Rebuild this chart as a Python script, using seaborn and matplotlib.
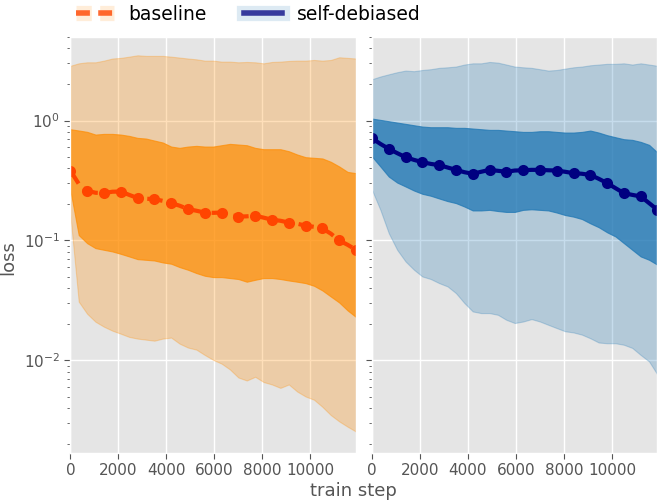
import numpy as np
import pandas as pd
import matplotlib
matplotlib.use("Agg")
import matplotlib.pyplot as plt
from matplotlib.lines import Line2D
import seaborn as sns

plt.style.use("ggplot")

# ---- data ----
steps = np.linspace(0, 11900, 35)  # logged training steps

baseline_median = [0.383, 0.297, 0.26, 0.25, 0.248, 0.255, 0.256, 0.240, 0.226, 0.223,
                   0.221, 0.214, 0.205, 0.195, 0.183, 0.177, 0.171, 0.170, 0.171, 0.164,
                   0.158, 0.159, 0.161, 0.155, 0.149, 0.146, 0.141, 0.138, 0.133, 0.130,
                   0.126, 0.114, 0.100, 0.092, 0.0836]
baseline_inner_hi = [0.847, 0.826, 0.805, 0.764, 0.774, 0.774, 0.764, 0.745, 0.717, 0.708,
                     0.681, 0.656, 0.607, 0.592, 0.607, 0.615, 0.607, 0.607, 0.623, 0.639,
                     0.631, 0.623, 0.592, 0.577, 0.577, 0.577, 0.555, 0.521, 0.495, 0.489,
                     0.483, 0.453, 0.414, 0.373, 0.364]
baseline_inner_lo = [0.264, 0.111, 0.095, 0.0863, 0.0836, 0.081, 0.0774, 0.0736, 0.0699, 0.069,
                     0.0681, 0.0656, 0.064, 0.060, 0.057, 0.0535, 0.0508, 0.0495, 0.0495, 0.0486,
                     0.0477, 0.0453, 0.047, 0.0486, 0.0486, 0.0477, 0.0464, 0.0453, 0.0441, 0.0419,
                     0.0383, 0.0341, 0.0304, 0.0261, 0.023]
baseline_outer_hi = [2.86, 3.0, 3.06, 3.06, 3.16, 3.29, 3.33, 3.41, 3.50, 3.46,
                     3.46, 3.46, 3.41, 3.35, 3.29, 3.24, 3.16, 3.16, 3.10, 3.10,
                     3.06, 3.08, 3.06, 3.0, 3.08, 3.10, 3.14, 3.16, 3.16, 3.2,
                     3.16, 3.2, 3.37, 3.33, 3.29]
baseline_outer_lo = [0.164, 0.0309, 0.0245, 0.021, 0.0191, 0.0177, 0.0167, 0.0157, 0.0152, 0.0149,
                     0.0146, 0.0152, 0.0155, 0.0138, 0.0128, 0.0123, 0.0111, 0.0101, 0.0094, 0.0084,
                     0.0072, 0.0068, 0.0073, 0.0066, 0.0063, 0.0059, 0.0063, 0.0055, 0.0050, 0.0047,
                     0.0041, 0.0035, 0.0031, 0.0028, 0.00255]

debiased_median = [0.712, 0.639, 0.581, 0.535, 0.495, 0.470, 0.450, 0.435, 0.425, 0.406,
                   0.388, 0.371, 0.360, 0.374, 0.388, 0.381, 0.374, 0.383, 0.385, 0.388,
                   0.388, 0.385, 0.383, 0.374, 0.364, 0.360, 0.352, 0.327, 0.301, 0.273,
                   0.248, 0.240, 0.233, 0.205, 0.180]
debiased_inner_hi = [1.039, 1.013, 0.987, 0.962, 0.938, 0.914, 0.891, 0.880, 0.880, 0.880,
                     0.869, 0.869, 0.858, 0.847, 0.836, 0.836, 0.825, 0.815, 0.804, 0.804,
                     0.815, 0.815, 0.804, 0.794, 0.794, 0.804, 0.825, 0.794, 0.755, 0.726,
                     0.699, 0.690, 0.664, 0.627, 0.541]
debiased_inner_lo = [0.501, 0.414, 0.341, 0.304, 0.282, 0.261, 0.245, 0.236, 0.224, 0.213,
                     0.205, 0.192, 0.178, 0.178, 0.180, 0.176, 0.173, 0.173, 0.180, 0.182,
                     0.180, 0.178, 0.171, 0.163, 0.158, 0.151, 0.139, 0.129, 0.117, 0.108,
                     0.095, 0.0836, 0.0736, 0.069, 0.0627]
debiased_outer_hi = [2.21, 2.33, 2.43, 2.53, 2.61, 2.58, 2.64, 2.68, 2.75, 2.78,
                     2.82, 2.93, 3.0, 3.0, 3.08, 3.04, 2.93, 2.82, 2.78, 2.75,
                     2.68, 2.61, 2.64, 2.71, 2.78, 2.82, 2.89, 2.93, 2.97, 2.97,
                     3.0, 2.93, 3.0, 2.93, 2.86]
debiased_outer_lo = [0.264, 0.180, 0.115, 0.0836, 0.0668, 0.0570, 0.0501, 0.0477, 0.0441, 0.0414,
                     0.0364, 0.0301, 0.0256, 0.0248, 0.0248, 0.0240, 0.0218, 0.0205, 0.0211, 0.0221,
                     0.0211, 0.0198, 0.0186, 0.0175, 0.0171, 0.0164, 0.0153, 0.0141, 0.0139, 0.0139,
                     0.0135, 0.0127, 0.0111, 0.0098, 0.0076]

labels = ["baseline", "self-debiased"]
xticks = [0, 2000, 4000, 6000, 8000, 10000]

# ---- figure ----
fig = plt.figure(figsize=(6.64, 5.03), dpi=100)
ax1 = fig.add_axes([0.1059, 0.100, 0.4303, 0.827])
ax2 = fig.add_axes([0.5602, 0.100, 0.4300, 0.827], sharey=ax1)

panels = [
    (ax1, baseline_median, baseline_inner_lo, baseline_inner_hi, baseline_outer_lo, baseline_outer_hi,
     "#FF8C00", 0.27, 0.70, "#FF4500", "--"),
    (ax2, debiased_median, debiased_inner_lo, debiased_inner_hi, debiased_outer_lo, debiased_outer_hi,
     "#1f77b4", 0.25, 0.75, "#000080", "-"),
]

for ax, med, ilo, ihi, olo, ohi, fc, a_out, a_in, lc, ls in panels:
    ax.fill_between(steps, olo, ohi, color=fc, alpha=a_out, lw=0.8)
    ax.fill_between(steps, ilo, ihi, color=fc, alpha=a_in, lw=0.8)
    df = pd.DataFrame({"step": steps, "loss": med})
    sns.lineplot(data=df, x="step", y="loss", ax=ax, color=lc, lw=3, linestyle=ls,
                 marker="o", markersize=8, markevery=2, mec=lc, mew=0, legend=False)
    ax.set_yscale("log")
    ax.set_xlim(0, 11900)
    ax.set_xticks(xticks)
    ax.set_xlabel("")
    ax.set_ylabel("")
    ax.tick_params(axis="both", which="major", labelsize=11, length=4, color="#555555")
    ax.tick_params(axis="y", which="minor", length=2, color="#555555")
    ax.grid(True, which="major", color="white", lw=1)
    ax.grid(False, which="minor")

ax1.set_ylim(0.0017, 5.0)
ax2.tick_params(axis="y", which="both", labelleft=False)

fig.text(0.013, 0.487, "loss", rotation=90, va="center", ha="center", fontsize=13, color="#555555")
fig.text(0.533, 0.023, "train step", va="center", ha="center", fontsize=13, color="#555555")

h_base = (Line2D([], [], color="#FF8C00", lw=11, alpha=0.15, dashes=(1.0, 0.55)),
          Line2D([], [], color="#FF4500", lw=4, dashes=(2.5, 1.5), alpha=0.8))
h_deb = (Line2D([], [], color="#1f77b4", lw=11, alpha=0.15),
         Line2D([], [], color="#000080", lw=4, alpha=0.75))
fig.legend([h_base, h_deb], labels, loc="center", bbox_to_anchor=(0.374, 0.972),
           ncol=2, frameon=False, fontsize=13.5, handlelength=2.0, columnspacing=2.0)

fig.savefig("out.png", dpi=100)
